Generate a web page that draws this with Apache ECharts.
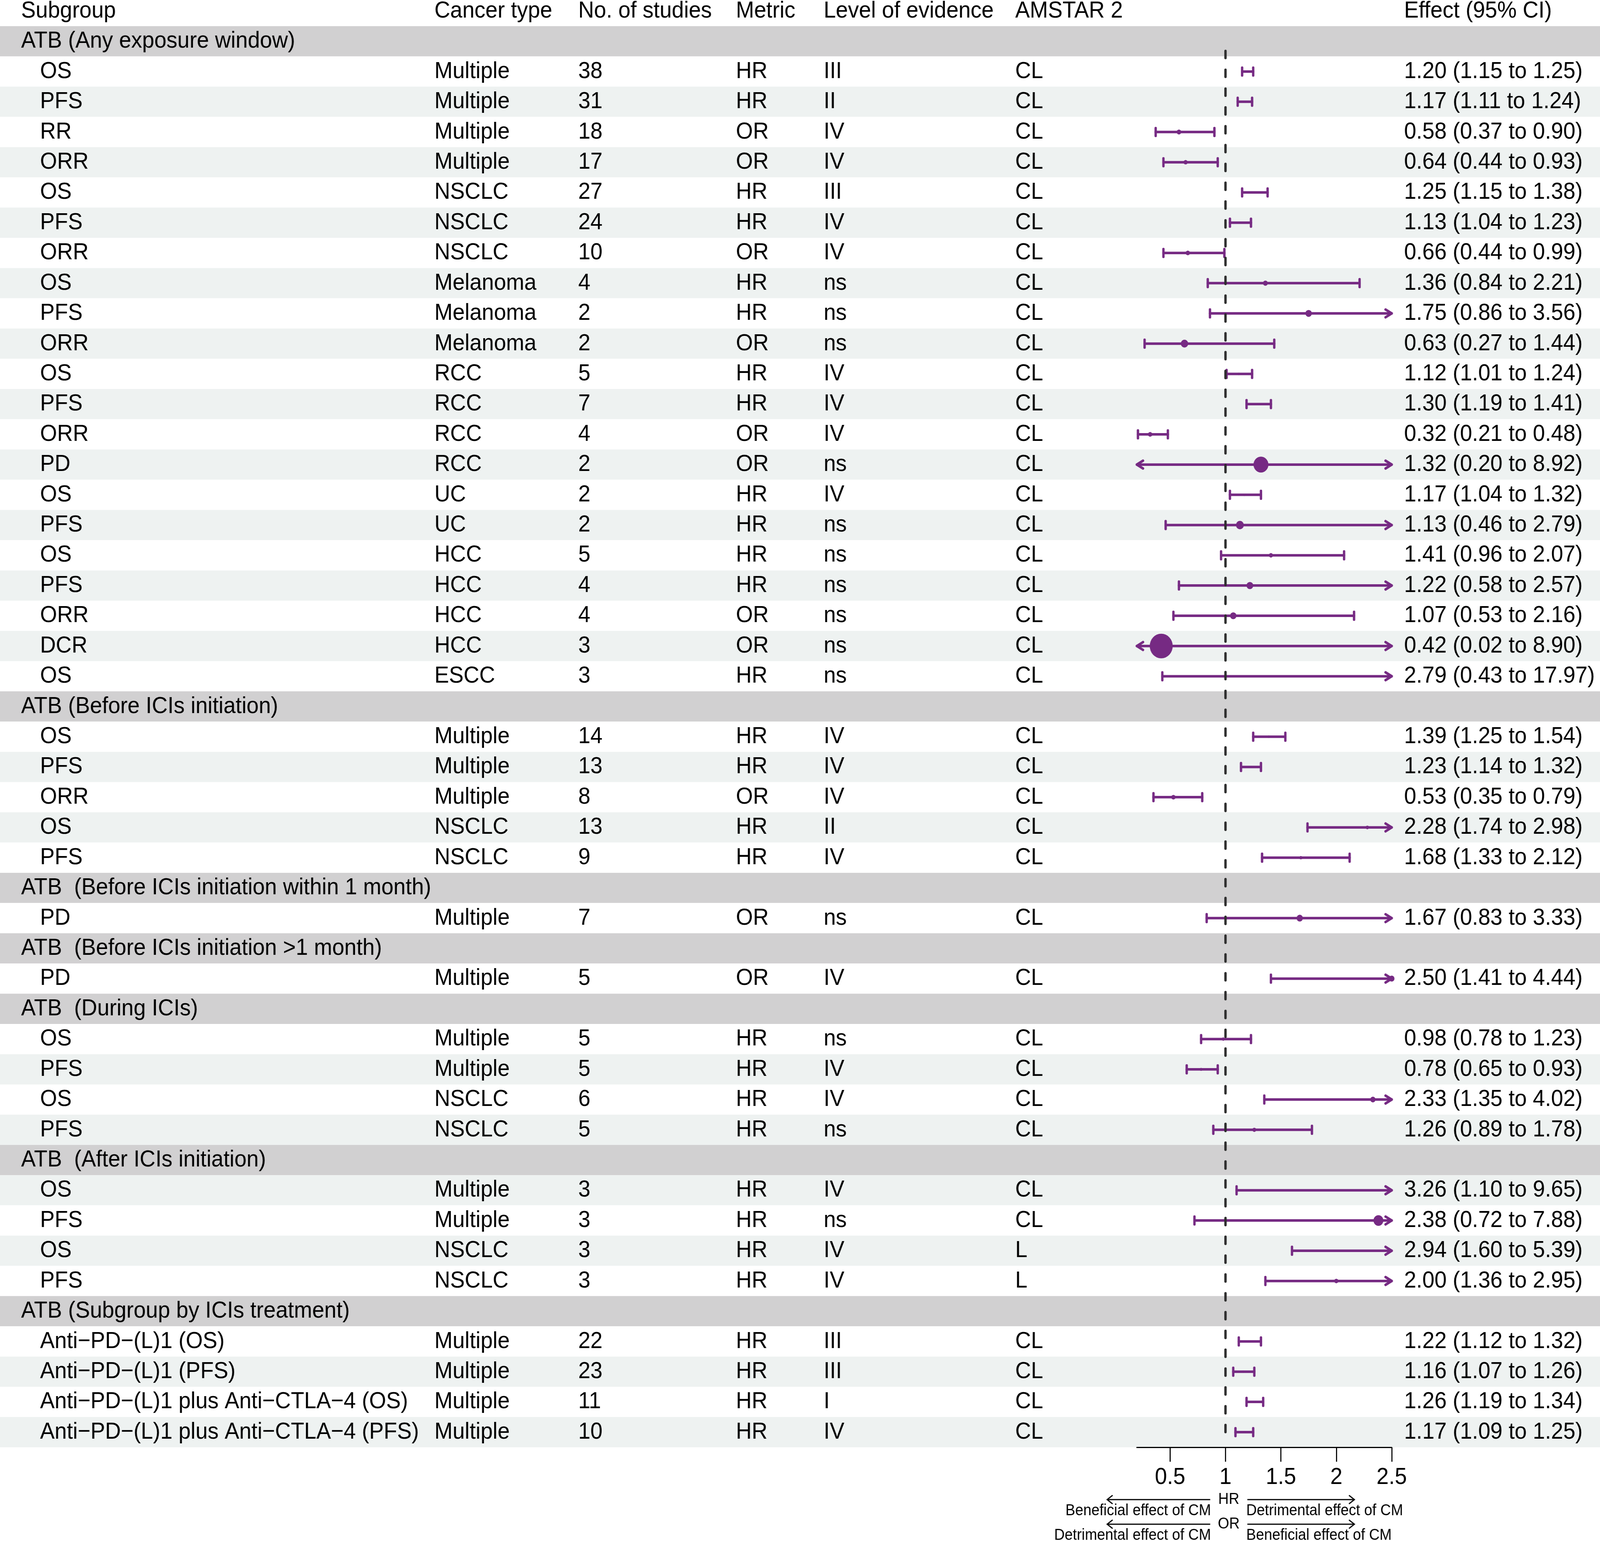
<!DOCTYPE html>
<html>
<head>
<meta charset="utf-8">
<script src="https://cdn.jsdelivr.net/npm/echarts@6/dist/echarts.min.js"></script>
<style>html,body{margin:0;padding:0;background:#fff;overflow:hidden}#c{width:4394px;height:3946px;transform-origin:0 0;position:absolute;left:0;top:0}</style>
</head>
<body>
<div id="c"></div>
<script>
// ---------------- DATA ----------------
const groupTitles = [
  'ATB (Any exposure window)',
  'ATB (Before ICIs initiation)',
  'ATB  (Before ICIs initiation within 1 month)',
  'ATB  (Before ICIs initiation >1 month)',
  'ATB  (During ICIs)',
  'ATB  (After ICIs initiation)',
  'ATB (Subgroup by ICIs treatment)'
];
const groupOf = [0,0,0,0,0,0,0,0,0,0,0,0,0,0,0,0,0,0,0,0,0, 1,1,1,1,1, 2, 3, 4,4,4,4, 5,5,5,5, 6,6,6,6];
const subgroup = ['OS','PFS','RR','ORR','OS','PFS','ORR','OS','PFS','ORR','OS','PFS','ORR','PD','OS','PFS','OS','PFS','ORR','DCR','OS',
  'OS','PFS','ORR','OS','PFS',
  'PD',
  'PD',
  'OS','PFS','OS','PFS',
  'OS','PFS','OS','PFS',
  'Anti\u2212PD\u2212(L)1 (OS)','Anti\u2212PD\u2212(L)1 (PFS)','Anti\u2212PD\u2212(L)1 plus Anti\u2212CTLA\u22124 (OS)','Anti\u2212PD\u2212(L)1 plus Anti\u2212CTLA\u22124 (PFS)'];
const cancerType = ['Multiple','Multiple','Multiple','Multiple','NSCLC','NSCLC','NSCLC','Melanoma','Melanoma','Melanoma','RCC','RCC','RCC','RCC','UC','UC','HCC','HCC','HCC','HCC','ESCC',
  'Multiple','Multiple','Multiple','NSCLC','NSCLC',
  'Multiple',
  'Multiple',
  'Multiple','Multiple','NSCLC','NSCLC',
  'Multiple','Multiple','NSCLC','NSCLC',
  'Multiple','Multiple','Multiple','Multiple'];
const nStudies = [38,31,18,17,27,24,10,4,2,2,5,7,4,2,2,2,5,4,4,3,3, 14,13,8,13,9, 7, 5, 5,5,6,5, 3,3,3,3, 22,23,11,10];
const metric = ['HR','HR','OR','OR','HR','HR','OR','HR','HR','OR','HR','HR','OR','OR','HR','HR','HR','HR','OR','OR','HR',
  'HR','HR','OR','HR','HR',
  'OR',
  'OR',
  'HR','HR','HR','HR',
  'HR','HR','HR','HR',
  'HR','HR','HR','HR'];
const evidence = ['III','II','IV','IV','III','IV','IV','ns','ns','ns','IV','IV','IV','ns','IV','ns','ns','ns','ns','ns','ns',
  'IV','IV','IV','II','IV',
  'ns',
  'IV',
  'ns','IV','IV','ns',
  'IV','ns','IV','IV',
  'III','III','I','IV'];
const amstar = ['CL','CL','CL','CL','CL','CL','CL','CL','CL','CL','CL','CL','CL','CL','CL','CL','CL','CL','CL','CL','CL',
  'CL','CL','CL','CL','CL',
  'CL',
  'CL',
  'CL','CL','CL','CL',
  'CL','CL','L','L',
  'CL','CL','CL','CL'];
const estimate = [1.20,1.17,0.58,0.64,1.25,1.13,0.66,1.36,1.75,0.63,1.12,1.30,0.32,1.32,1.17,1.13,1.41,1.22,1.07,0.42,2.79,
  1.39,1.23,0.53,2.28,1.68,
  1.67,
  2.50,
  0.98,0.78,2.33,1.26,
  3.26,2.38,2.94,2.00,
  1.22,1.16,1.26,1.17];
const lowerCI = [1.15,1.11,0.37,0.44,1.15,1.04,0.44,0.84,0.86,0.27,1.01,1.19,0.21,0.20,1.04,0.46,0.96,0.58,0.53,0.02,0.43,
  1.25,1.14,0.35,1.74,1.33,
  0.83,
  1.41,
  0.78,0.65,1.35,0.89,
  1.10,0.72,1.60,1.36,
  1.12,1.07,1.19,1.09];
const upperCI = [1.25,1.24,0.90,0.93,1.38,1.23,0.99,2.21,3.56,1.44,1.24,1.41,0.48,8.92,1.32,2.79,2.07,2.57,2.16,8.90,17.97,
  1.54,1.32,0.79,2.98,2.12,
  3.33,
  4.44,
  1.23,0.93,4.02,1.78,
  9.65,7.88,5.39,2.95,
  1.32,1.26,1.34,1.25];
const columnHeaders = ['Subgroup','Cancer type','No. of studies','Metric','Level of evidence','AMSTAR 2','Effect (95% CI)'];
const xTicks = [0.5, 1, 1.5, 2, 2.5];
const arrowLabels = { hr: ['Beneficial effect of CM', 'Detrimental effect of CM'], or: ['Detrimental effect of CM', 'Beneficial effect of CM'] };

// ---------------- LAYOUT / STYLE ----------------
const W = 4394, H = 3946;
const FONT = '"Liberation Sans", Arial, Helvetica, sans-serif';
const PURPLE = '#762A83';
const bodyTop = 67, bodyBottom = 3706;
const nRows = 47;
const rowH = (bodyBottom - bodyTop) / nRows;
const colX = [58, 1193, 1588, 2021, 2262, 2788, 3856];
const indentX = 110;
const XMIN = 0.2, XMAX = 2.5;
const fs = 60;

// fit the design canvas to the actual window
const el = document.getElementById('c');
const vw = window.innerWidth || W, vh = window.innerHeight || H;
el.style.transform = 'scale(' + (vw / W) + ',' + (vh / H) + ')';

// build table rows
const rows = [];
let prevG = -1;
for (let k = 0; k < subgroup.length; k++) {
  if (groupOf[k] !== prevG) { rows.push({ kind: 'group', g: groupOf[k] }); prevG = groupOf[k]; }
  rows.push({ kind: 'item', k: k });
}

const bgData = rows.map((r, i) => [i, r.kind === 'group' ? 0 : (i % 2 === 1 ? 2 : 1)]);
const bgColors = ['#D1D0D1', '#EEF2F1', '#FFFFFF'];

const fmt = v => v.toFixed(2);
const textData = [];
columnHeaders.forEach((h, c) => textData.push([colX[c], -0.5, h]));
rows.forEach((r, i) => {
  const y = i + 0.5;
  if (r.kind === 'group') {
    textData.push([colX[0], y, groupTitles[r.g]]);
  } else {
    const k = r.k;
    textData.push([indentX, y, subgroup[k]]);
    textData.push([colX[1], y, cancerType[k]]);
    textData.push([colX[2], y, String(nStudies[k])]);
    textData.push([colX[3], y, metric[k]]);
    textData.push([colX[4], y, evidence[k]]);
    textData.push([colX[5], y, amstar[k]]);
    textData.push([colX[6], y, fmt(estimate[k]) + ' (' + fmt(lowerCI[k]) + ' to ' + fmt(upperCI[k]) + ')']);
  }
});

const ciData = [];
rows.forEach((r, i) => {
  if (r.kind === 'item') ciData.push([estimate[r.k], lowerCI[r.k], upperCI[r.k], i]);
});

const chart = echarts.init(el, null, { renderer: 'canvas', width: W, height: H });

const option = {
  animation: false,
  backgroundColor: '#ffffff',
  grid: [
    { left: 3122, width: 700, top: bodyTop, height: bodyBottom - bodyTop },
    { left: 0, width: W, top: 0, height: bodyBottom }
  ],
  xAxis: [
    {
      gridIndex: 0, type: 'value', min: XMIN, max: XMAX, position: 'bottom',
      axisLine: { show: true, onZero: false, lineStyle: { color: '#000', width: 3 } },
      axisTick: { show: true, customValues: xTicks, length: 37, lineStyle: { color: '#000', width: 3 } },
      axisLabel: { show: true, customValues: xTicks, fontSize: fs, fontFamily: FONT, color: '#000', margin: 47 },
      splitLine: { show: false }
    },
    { gridIndex: 1, type: 'value', min: 0, max: W, show: false }
  ],
  yAxis: [
    { gridIndex: 0, type: 'value', min: 0, max: nRows, inverse: true, show: false },
    { gridIndex: 1, type: 'value', min: -bodyTop / rowH, max: nRows, inverse: true, show: false }
  ],
  series: [
    {
      type: 'custom', xAxisIndex: 1, yAxisIndex: 1, z: 0, silent: true, clip: false,
      data: bgData,
      renderItem: function (params, api) {
        const i = api.value(0), t = api.value(1);
        const p0 = api.coord([0, i]);
        const p1 = api.coord([W, i + 1]);
        return { type: 'rect', shape: { x: p0[0], y: p0[1], width: p1[0] - p0[0], height: p1[1] - p0[1] },
          style: { fill: bgColors[t] } };
      }
    },
    {
      type: 'custom', xAxisIndex: 1, yAxisIndex: 1, z: 2, silent: true, clip: false,
      data: textData,
      renderItem: function (params, api) {
        const p = api.coord([api.value(0), api.value(1)]);
        return { type: 'text', x: p[0], y: p[1],
          style: { text: textData[params.dataIndex][2], fill: '#000', font: fs + 'px ' + FONT,
            textAlign: 'left', textVerticalAlign: 'middle', align: 'left', verticalAlign: 'middle' } };
      }
    },
    {
      type: 'custom', xAxisIndex: 0, yAxisIndex: 0, z: 3, silent: true, clip: false,
      data: ciData,
      renderItem: function (params, api) {
        const est = api.value(0), lo = api.value(1), hi = api.value(2), r = api.value(3);
        const yc = api.coord([1, r + 0.5])[1];
        const xl = api.coord([Math.max(lo, XMIN), r + 0.5])[0];
        const xr = api.coord([Math.min(hi, XMAX), r + 0.5])[0];
        const st = { stroke: PURPLE, lineWidth: 6.5, lineCap: 'round', lineJoin: 'round', fill: 'none' };
        const ch = [];
        ch.push({ type: 'line', shape: { x1: xl, y1: yc, x2: xr, y2: yc }, style: st });
        if (lo <= XMIN) ch.push({ type: 'polyline', shape: { points: [[xl + 17, yc - 10], [xl, yc], [xl + 17, yc + 10]] }, style: st });
        else ch.push({ type: 'line', shape: { x1: xl, y1: yc - 10, x2: xl, y2: yc + 10 }, style: st });
        if (hi > XMAX) ch.push({ type: 'polyline', shape: { points: [[xr - 17, yc - 10], [xr, yc], [xr - 17, yc + 10]] }, style: st });
        else ch.push({ type: 'line', shape: { x1: xr, y1: yc - 10, x2: xr, y2: yc + 10 }, style: st });
        if (est >= XMIN && est <= XMAX) {
          const se = (Math.log(hi) - Math.log(lo)) / 3.92;
          const d = 4 + 38 * se;
          const xe = api.coord([est, r + 0.5])[0];
          ch.push({ type: 'circle', shape: { cx: xe, cy: yc, r: d / 2 }, style: { fill: PURPLE } });
        }
        return { type: 'group', children: ch };
      }
    },
    {
      type: 'line', xAxisIndex: 0, yAxisIndex: 0, z: 5, silent: true, symbol: 'none',
      data: [[1, 0.82], [1, 46.8]],
      lineStyle: { color: '#2e2e2e', width: 6.5, type: [18, 30.2], cap: 'round' }
    }
  ]
};
chart.setOption(option);

// arrow legend below the axis
const x1 = chart.convertToPixel({ xAxisIndex: 0 }, 1);
const cx = x1 + 9;
const aStyle = { stroke: '#000', lineWidth: 3, fill: 'none', lineJoin: 'miter' };
function arrowEls(y, leftLab, rightLab, mid) {
  const els = [];
  const lt = cx - 51, lh = cx - 334, rt = cx + 51, rh = cx + 345;
  els.push({ type: 'line', shape: { x1: lt, y1: y, x2: lh, y2: y }, style: aStyle });
  els.push({ type: 'polyline', shape: { points: [[lh + 15, y - 11], [lh, y], [lh + 15, y + 11]] }, style: aStyle });
  els.push({ type: 'line', shape: { x1: rt, y1: y, x2: rh, y2: y }, style: aStyle });
  els.push({ type: 'polyline', shape: { points: [[rh - 15, y - 11], [rh, y], [rh - 15, y + 11]] }, style: aStyle });
  els.push({ type: 'text', x: cx, y: y, style: { text: mid, font: '40px ' + FONT, fill: '#000', textAlign: 'center', textVerticalAlign: 'middle', align: 'center', verticalAlign: 'middle' } });
  els.push({ type: 'text', x: cx - 49, y: y + 29, style: { text: leftLab, font: '40px ' + FONT, fill: '#000', textAlign: 'right', textVerticalAlign: 'middle', align: 'right', verticalAlign: 'middle' } });
  els.push({ type: 'text', x: cx + 48, y: y + 29, style: { text: rightLab, font: '40px ' + FONT, fill: '#000', textAlign: 'left', textVerticalAlign: 'middle', align: 'left', verticalAlign: 'middle' } });
  return els;
}
chart.setOption({
  graphic: [].concat(
    arrowEls(3840, arrowLabels.hr[0], arrowLabels.hr[1], 'HR'),
    arrowEls(3903, arrowLabels.or[0], arrowLabels.or[1], 'OR')
  )
});
</script>
</body>
</html>
